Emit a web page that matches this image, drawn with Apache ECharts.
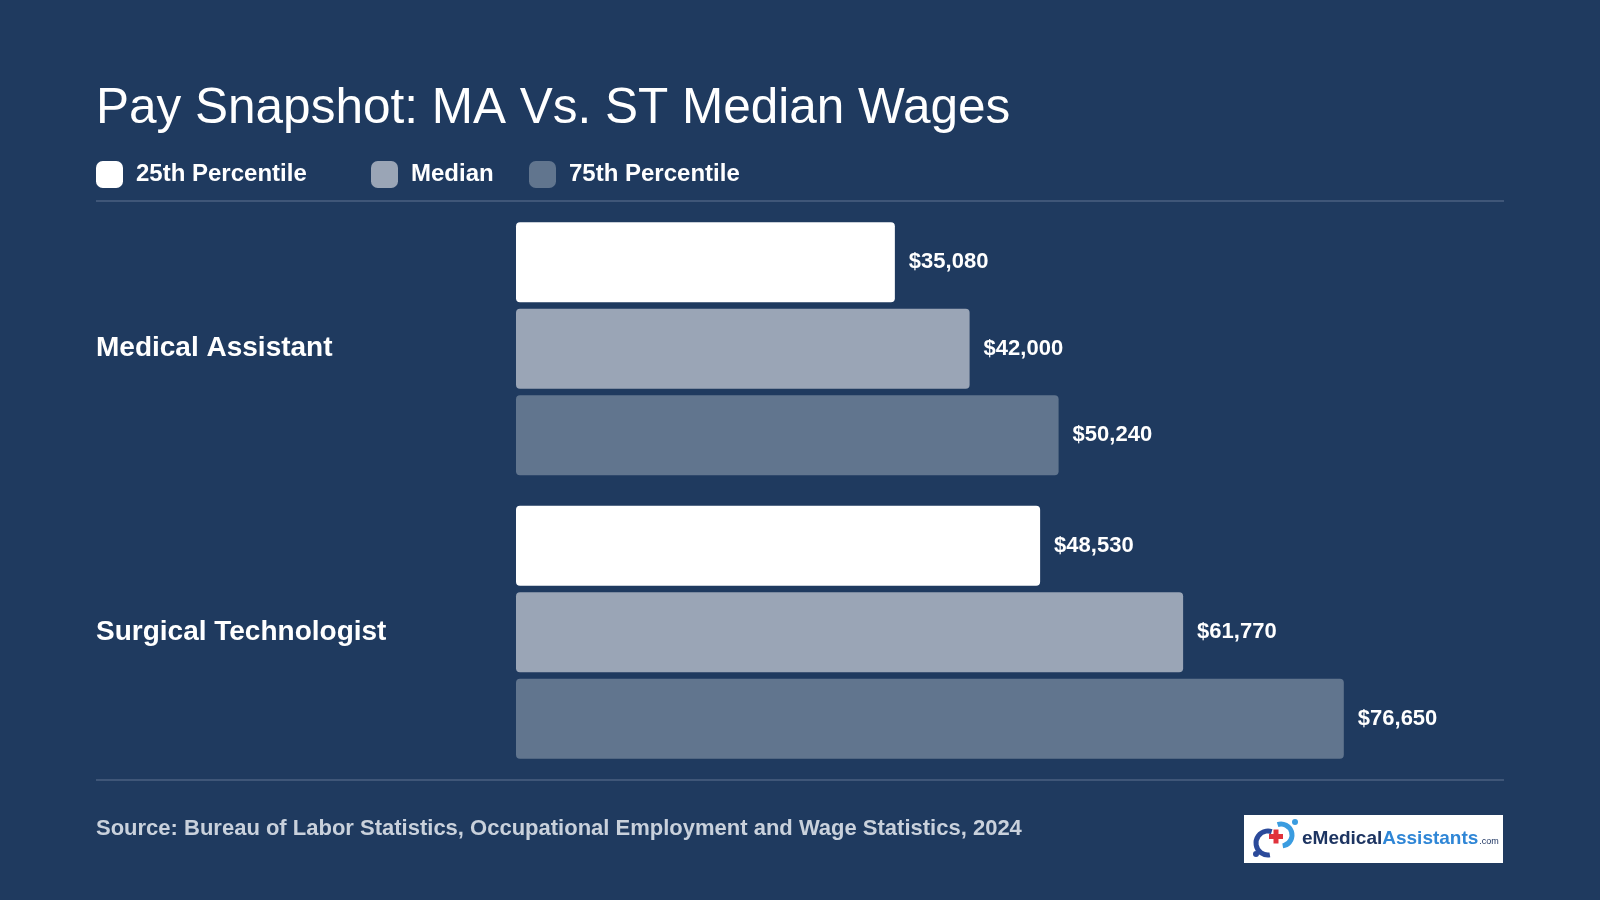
<!DOCTYPE html>
<html>
<head>
<meta charset="utf-8">
<title>Pay Snapshot: MA Vs. ST Median Wages</title>
<script src="https://cdn.jsdelivr.net/npm/echarts@6/dist/echarts.min.js"></script>
<style>
  html, body { margin: 0; padding: 0; background: #1f3a5f; }
  #chart { width: 1600px; height: 900px; }
</style>
</head>
<body>
<div id="chart"></div>
<script>
// data
const occupations = ['Medical Assistant', 'Surgical Technologist']
const seriesNames = ['25th Percentile', 'Median', '75th Percentile']
const p25 = [35080, 48530]
const median = [42000, 61770]
const p75 = [50240, 76650]

const FONT = "'Liberation Sans', Arial, sans-serif"
const BG = '#1f3a5f'
const colors = ['#ffffff', '#9aa5b6', '#61758e']
const LINE = '#3f5678'

const chart = echarts.init(document.getElementById('chart'))

const money = v => '$' + v.toLocaleString('en-US')

function barSeries(name, values, color) {
  return {
    name: name,
    type: 'bar',
    data: values,
    barWidth: 80,
    barGap: '8%',
    itemStyle: { color: color, borderRadius: 4 },
    label: {
      show: true,
      position: 'right',
      distance: 14,
      color: '#ffffff',
      fontFamily: FONT,
      fontWeight: 'bold',
      fontSize: 22,
      formatter: p => money(p.value)
    },
    emphasis: { disabled: true }
  }
}

// one legend per item so the spacing matches the original
const legendLefts = [96, 371, 529]
const legends = seriesNames.map((n, i) => ({
  data: [n],
  left: legendLefts[i],
  top: 161,
  padding: 0,
  icon: 'roundRect',
  itemWidth: 27,
  itemHeight: 27,
  selectedMode: false,
  textStyle: {
    color: '#ffffff',
    fontFamily: FONT,
    fontWeight: 'bold',
    fontSize: 24,
    padding: [0, 0, 0, 8]
  }
}))

const option = {
  backgroundColor: BG,
  animation: false,
  title: {
    text: 'Pay Snapshot: MA Vs. ST Median Wages',
    left: 96,
    top: 84,
    padding: 0,
    textStyle: { color: '#ffffff', fontFamily: FONT, fontWeight: 'normal', fontSize: 49.5 }
  },
  legend: legends,
  grid: { left: 516, right: 112, top: 207, bottom: 126 },
  xAxis: {
    type: 'value',
    min: 0,
    max: 90000,
    show: false
  },
  yAxis: {
    type: 'category',
    data: occupations,
    inverse: true,
    axisLine: { show: false },
    axisTick: { show: false },
    axisLabel: {
      align: 'left',
      margin: 420,
      padding: [4, 0, 0, 0],
      color: '#ffffff',
      fontFamily: FONT,
      fontWeight: 'bold',
      fontSize: 28
    }
  },
  series: [
    barSeries(seriesNames[0], p25, colors[0]),
    barSeries(seriesNames[1], median, colors[1]),
    barSeries(seriesNames[2], p75, colors[2])
  ],
  graphic: [
    // divider lines
    { type: 'rect', shape: { x: 96, y: 200, width: 1408, height: 2 }, style: { fill: LINE }, silent: true },
    { type: 'rect', shape: { x: 96, y: 779, width: 1408, height: 2 }, style: { fill: LINE }, silent: true },
    {
      type: 'text',
      left: 96,
      top: 818,
      style: {
        text: 'Source: Bureau of Labor Statistics, Occupational Employment and Wage Statistics, 2024',
        fill: '#c9d1dc',
        font: 'bold 22px ' + FONT
      }
    },
    // logo box
    {
      type: 'group',
      x: 1244,
      y: 815,
      children: [
        { type: 'rect', shape: { x: 0, y: 0, width: 259, height: 48 }, style: { fill: '#ffffff' } },
        { type: 'arc', shape: { cx: 24, cy: 28, r: 12, startAngle: Math.PI * 0.45, endAngle: Math.PI * 1.6 }, style: { stroke: '#2b4a9a', lineWidth: 5, fill: null } },
        { type: 'arc', shape: { cx: 37, cy: 20, r: 11, startAngle: -Math.PI * 0.6, endAngle: Math.PI * 0.45 }, style: { stroke: '#3a9ce0', lineWidth: 5, fill: null } },
        { type: 'rect', shape: { x: 25, y: 19, width: 14, height: 5 }, style: { fill: '#e0323c' } },
        { type: 'rect', shape: { x: 29.5, y: 14.5, width: 5, height: 14 }, style: { fill: '#e0323c' } },
        { type: 'circle', shape: { cx: 12, cy: 39, r: 3 }, style: { fill: '#2b4a9a' } },
        { type: 'circle', shape: { cx: 51, cy: 7, r: 3 }, style: { fill: '#3a9ce0' } },
        {
          type: 'text',
          x: 58,
          y: 24,
          style: {
            text: '{a|eMedical}{b|Assistants}{c|.com}',
            verticalAlign: 'middle',
            rich: {
              a: { fill: '#1d3461', font: 'bold 19px ' + FONT },
              b: { fill: '#2f86d6', font: 'bold 19px ' + FONT },
              c: { fill: '#1d3461', font: '9px ' + FONT, padding: [6, 0, 0, 1] }
            }
          }
        }
      ]
    }
  ]
}

chart.setOption(option)
</script>
</body>
</html>
